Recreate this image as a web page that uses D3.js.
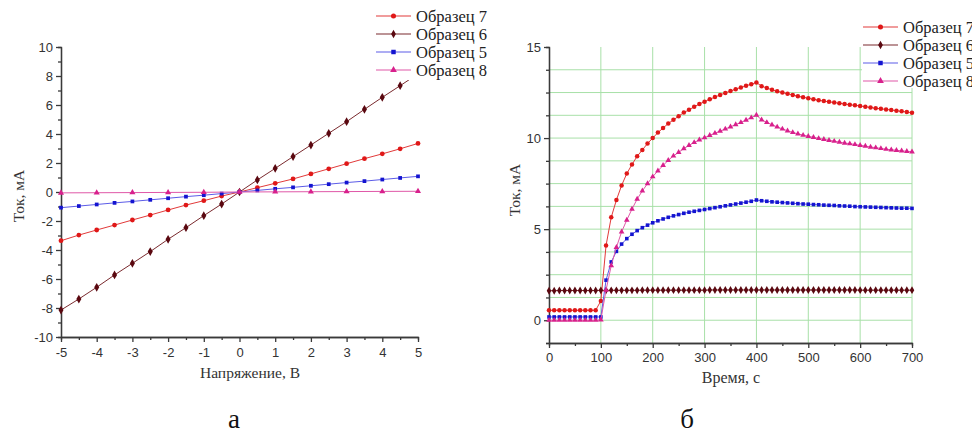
<!DOCTYPE html>
<html>
<head>
<meta charset="utf-8">
<script src="https://cdn.jsdelivr.net/npm/d3@7"></script>
<style>
  body { margin: 0; background: #fff; }
  svg { display: block; }
</style>
</head>
<body>
<div id="chart-area"></div>
<script>
// ---- data, panel a (I-V) ----
const voltage = [-5, -4.5, -4, -3.5, -3, -2.5, -2, -1.5, -1, -0.5, 0, 0.5, 1, 1.5, 2, 2.5, 3, 3.5, 4, 4.5, 5]
const ivS7 = [-3.36, -2.97, -2.62, -2.28, -1.93, -1.59, -1.24, -0.9, -0.6, -0.28, 0, 0.3, 0.6, 0.9, 1.25, 1.6, 1.95, 2.3, 2.63, 2.98, 3.35]
const ivS6 = [-8.14, -7.38, -6.57, -5.72, -4.92, -4.11, -3.26, -2.46, -1.63, -0.83, 0, 0.83, 1.63, 2.44, 3.24, 4.05, 4.85, 5.7, 6.53, 7.33, 8.15]
const ivS5 = [-1.08, -0.97, -0.86, -0.75, -0.65, -0.54, -0.43, -0.32, -0.22, -0.11, 0, 0.11, 0.22, 0.32, 0.43, 0.54, 0.65, 0.75, 0.86, 0.97, 1.08]
const voltageS8 = [-5, -4, -3, -2, -1, 0, 1, 2, 3, 4, 5]
const ivS8 = [-0.06, -0.05, -0.04, -0.03, -0.02, 0, 0.01, 0.02, 0.03, 0.04, 0.05]

// ---- data, panel б (current vs time) ----
const time = [0, 10, 20, 30, 40, 50, 60, 70, 80, 90,
  100, 110, 120, 130, 140, 150, 160, 170, 180, 190,
  200, 210, 220, 230, 240, 250, 260, 270, 280, 290,
  300, 310, 320, 330, 340, 350, 360, 370, 380, 390,
  400, 410, 420, 430, 440, 450, 460, 470, 480, 490,
  500, 510, 520, 530, 540, 550, 560, 570, 580, 590,
  600, 610, 620, 630, 640, 650, 660, 670, 680, 690, 700]
const tS7 = [0.55, 0.55, 0.55, 0.55, 0.55, 0.55, 0.55, 0.55, 0.55, 0.55,
  1.06, 4.1, 5.65, 6.6, 7.4, 8.05, 8.55, 9.0, 9.35, 9.7,
  10.0, 10.3, 10.55, 10.8, 11.0, 11.2, 11.4, 11.55, 11.72, 11.87,
  12.0, 12.13, 12.25, 12.37, 12.48, 12.58, 12.68, 12.78, 12.87, 12.96,
  13.05, 12.85, 12.75, 12.65, 12.57, 12.5, 12.43, 12.37, 12.3, 12.24,
  12.18, 12.13, 12.08, 12.03, 11.99, 11.95, 11.91, 11.87, 11.83, 11.8,
  11.76, 11.72, 11.68, 11.64, 11.61, 11.57, 11.54, 11.5, 11.47, 11.43, 11.39]
const tS6 = [1.62, 1.62, 1.63, 1.63, 1.63, 1.63, 1.63, 1.63, 1.63, 1.63,
  1.64, 1.64, 1.64, 1.64, 1.64, 1.64, 1.64, 1.64, 1.65, 1.65,
  1.65, 1.65, 1.65, 1.65, 1.65, 1.65, 1.65, 1.65, 1.65, 1.65,
  1.65, 1.66, 1.66, 1.66, 1.66, 1.66, 1.66, 1.66, 1.66, 1.66,
  1.66, 1.66, 1.66, 1.66, 1.66, 1.66, 1.66, 1.66, 1.66, 1.66,
  1.66, 1.66, 1.66, 1.66, 1.66, 1.66, 1.66, 1.66, 1.66, 1.66,
  1.65, 1.65, 1.65, 1.65, 1.65, 1.65, 1.65, 1.65, 1.65, 1.65, 1.65]
const tS5 = [0.18, 0.18, 0.18, 0.18, 0.18, 0.18, 0.18, 0.18, 0.18, 0.18,
  0.18, 2.2, 3.2, 3.78, 4.18, 4.48, 4.72, 4.92, 5.08, 5.22,
  5.35, 5.46, 5.56, 5.65, 5.73, 5.8, 5.87, 5.93, 5.98, 6.03,
  6.08, 6.13, 6.18, 6.23, 6.28, 6.33, 6.38, 6.43, 6.48, 6.53,
  6.6, 6.56, 6.53, 6.5, 6.48, 6.46, 6.44, 6.42, 6.4, 6.38,
  6.37, 6.35, 6.34, 6.32, 6.31, 6.3, 6.28, 6.27, 6.26, 6.24,
  6.23, 6.22, 6.21, 6.2, 6.19, 6.18, 6.17, 6.16, 6.15, 6.15, 6.14]
const tS8 = [0.0, 0.0, 0.0, 0.0, 0.0, 0.0, 0.0, 0.0, 0.0, 0.0,
  0.02, 1.65, 3.0, 4.0, 4.85, 5.5, 6.1, 6.65, 7.1, 7.5,
  7.88, 8.2, 8.5, 8.78, 9.02, 9.22, 9.42, 9.6, 9.76, 9.9,
  10.02, 10.15, 10.27, 10.38, 10.5, 10.62, 10.74, 10.86, 10.99, 11.12,
  11.26, 11.0, 10.86, 10.73, 10.61, 10.5, 10.4, 10.31, 10.23, 10.16,
  10.1, 10.04, 9.98, 9.93, 9.88, 9.83, 9.78, 9.73, 9.69, 9.65,
  9.6, 9.56, 9.51, 9.47, 9.43, 9.39, 9.36, 9.33, 9.3, 9.27, 9.25]

const seriesNames = ["Образец 7", "Образец 6", "Образец 5", "Образец 8"]
const lineColors = ["#e23a3a", "#7a2a2e", "#5c5ce8", "#e058a8"]
const markColors = ["#e01818", "#5a0810", "#1414d0", "#d8208c"]
const markTypes = [d3.symbolCircle, d3.symbolDiamond, d3.symbolSquare, d3.symbolTriangle]

const TICK_FONT = "'Liberation Sans', Arial, sans-serif"
const SERIF = "'Liberation Serif', 'Times New Roman', serif"

const svg = d3.select("#chart-area").append("svg")
    .attr("width", 972)
    .attr("height", 433)

// draws one series: polyline + markers
function drawSeries(g, xs, ys, x, y, i, size) {
    const pts = xs.map((v, k) => [v, ys[k]])
    g.append("path")
        .datum(pts)
        .attr("fill", "none")
        .attr("stroke", lineColors[i])
        .attr("stroke-width", 1)
        .attr("d", d3.line().x(d => x(d[0])).y(d => y(d[1])))
    g.selectAll(null).data(pts).enter().append("path")
        .attr("transform", d => `translate(${x(d[0])},${y(d[1])})`)
        .attr("d", d3.symbol().type(markTypes[i]).size(size))
        .attr("fill", markColors[i])
}

function styleAxis(sel) {
    sel.selectAll("path, line").attr("stroke", "#3a3a3a").attr("stroke-width", 1.3)
    sel.selectAll("text").attr("font-family", TICK_FONT).attr("font-size", "13px").attr("fill", "#333")
}

// plain hyphen minus like the original, not the unicode one
const plain = d => String(d)

function legend(x0, y0, x1, y1, lineX, rows) {
    svg.append("rect")
        .attr("x", x0).attr("y", y0)
        .attr("width", x1 - x0).attr("height", y1 - y0)
        .attr("fill", "#fff")
    seriesNames.forEach((name, i) => {
        const ly = rows[i]
        svg.append("line")
            .attr("x1", lineX).attr("x2", lineX + 35)
            .attr("y1", ly).attr("y2", ly)
            .attr("stroke", lineColors[i])
            .attr("stroke-width", 1.2)
        svg.append("path")
            .attr("transform", `translate(${lineX + 17.5},${ly})`)
            .attr("d", d3.symbol().type(markTypes[i]).size(20))
            .attr("fill", markColors[i])
        svg.append("text")
            .attr("x", lineX + 40)
            .attr("y", ly)
            .attr("dy", "0.35em")
            .attr("font-family", SERIF)
            .attr("font-size", "16.5px")
            .attr("fill", "#222")
            .text(name)
    })
}

// ================= panel a =================
const xA = d3.scaleLinear().domain([-5, 5]).range([61, 418])
const yA = d3.scaleLinear().domain([-10, 10]).range([337, 47])

const gA = svg.append("g")

// minor ticks
gA.append("g")
    .attr("transform", "translate(0,337)")
    .call(d3.axisBottom(xA).tickValues(d3.range(-4.5, 5, 1)).tickSize(3).tickFormat(""))
    .call(styleAxis)
gA.append("g")
    .attr("transform", "translate(61,0)")
    .call(d3.axisLeft(yA).tickValues(d3.range(-9, 10, 2)).tickSize(3).tickFormat(""))
    .call(styleAxis)
// major ticks
gA.append("g")
    .attr("transform", "translate(0,337)")
    .call(d3.axisBottom(xA).tickValues(d3.range(-5, 6, 1)).tickSize(5).tickSizeOuter(0).tickPadding(6).tickFormat(plain))
    .call(styleAxis)
gA.append("g")
    .attr("transform", "translate(61,0)")
    .call(d3.axisLeft(yA).tickValues(d3.range(-10, 11, 2)).tickSize(5).tickSizeOuter(0).tickPadding(3).tickFormat(plain))
    .call(styleAxis)

const plotA = gA.append("g")
drawSeries(plotA, voltage, ivS7, xA, yA, 0, 18)
drawSeries(plotA, voltage, ivS6, xA, yA, 1, 22)
drawSeries(plotA, voltage, ivS5, xA, yA, 2, 14)
drawSeries(plotA, voltageS8, ivS8, xA, yA, 3, 16)

gA.append("text")
    .attr("x", 250).attr("y", 373).attr("dy", "0.35em")
    .attr("text-anchor", "middle")
    .attr("font-family", SERIF).attr("font-size", "15.5px").attr("fill", "#333")
    .text("Напряжение, В")
gA.append("text")
    .attr("transform", "translate(19,196) rotate(-90)")
    .attr("dy", "0.35em")
    .attr("text-anchor", "middle")
    .attr("font-family", SERIF).attr("font-size", "15.5px").attr("fill", "#333")
    .text("Ток, мА")
gA.append("text")
    .attr("x", 234).attr("y", 428)
    .attr("text-anchor", "middle")
    .attr("font-family", SERIF).attr("font-size", "27px").attr("fill", "#111")
    .text("а")

legend(368, 0, 490, 80, 376, [16, 34, 52, 70])

// ================= panel б =================
const xB = d3.scaleLinear().domain([0, 700]).range([549, 912])
const yB = d3.scaleLinear().domain([-1.25, 15]).range([343, 47])

const gB = svg.append("g")

// grid
gB.append("g").selectAll("line")
    .data(d3.range(-1.25, 14, 1.25).filter(v => v > -1))
    .enter().append("line")
    .attr("x1", 549).attr("x2", 912)
    .attr("y1", d => yB(d)).attr("y2", d => yB(d))
    .attr("stroke", "#a8e0a8").attr("stroke-width", 1)
gB.append("g").selectAll("line")
    .data(d3.range(100, 701, 100))
    .enter().append("line")
    .attr("x1", d => xB(d)).attr("x2", d => xB(d))
    .attr("y1", yB(15)).attr("y2", 343)
    .attr("stroke", "#a8e0a8").attr("stroke-width", 1)

gB.append("g")
    .attr("transform", "translate(0,343)")
    .call(d3.axisBottom(xB).tickValues(d3.range(50, 700, 100)).tickSize(3).tickFormat(""))
    .call(styleAxis)
gB.append("g")
    .attr("transform", "translate(549,0)")
    .call(d3.axisLeft(yB).tickValues([-1.25, 1.25, 2.5, 3.75, 6.25, 7.5, 8.75, 11.25, 12.5, 13.75]).tickSize(3).tickFormat(""))
    .call(styleAxis)
gB.append("g")
    .attr("transform", "translate(0,343)")
    .call(d3.axisBottom(xB).tickValues(d3.range(0, 701, 100)).tickSize(5).tickSizeOuter(0).tickPadding(5).tickFormat(plain))
    .call(styleAxis)
gB.append("g")
    .attr("transform", "translate(549,0)")
    .call(d3.axisLeft(yB).tickValues([0, 5, 10, 15]).tickSize(5).tickSizeOuter(0).tickPadding(3).tickFormat(plain))
    .call(styleAxis)

const plotB = gB.append("g")
drawSeries(plotB, time, tS7, xB, yB, 0, 16)
drawSeries(plotB, time, tS6, xB, yB, 1, 18)
drawSeries(plotB, time, tS5, xB, yB, 2, 13)
drawSeries(plotB, time, tS8, xB, yB, 3, 14)

gB.append("text")
    .attr("x", 731).attr("y", 377).attr("dy", "0.35em")
    .attr("text-anchor", "middle")
    .attr("font-family", SERIF).attr("font-size", "16px").attr("fill", "#333")
    .text("Время, с")
gB.append("text")
    .attr("transform", "translate(515,190) rotate(-90)")
    .attr("dy", "0.35em")
    .attr("text-anchor", "middle")
    .attr("font-family", SERIF).attr("font-size", "15.5px").attr("fill", "#333")
    .text("Ток, мА")
gB.append("text")
    .attr("x", 687).attr("y", 428)
    .attr("text-anchor", "middle")
    .attr("font-family", SERIF).attr("font-size", "27px").attr("fill", "#111")
    .text("б")

legend(862, 12, 972, 88, 863, [27, 45, 63, 81])
</script>
</body>
</html>
